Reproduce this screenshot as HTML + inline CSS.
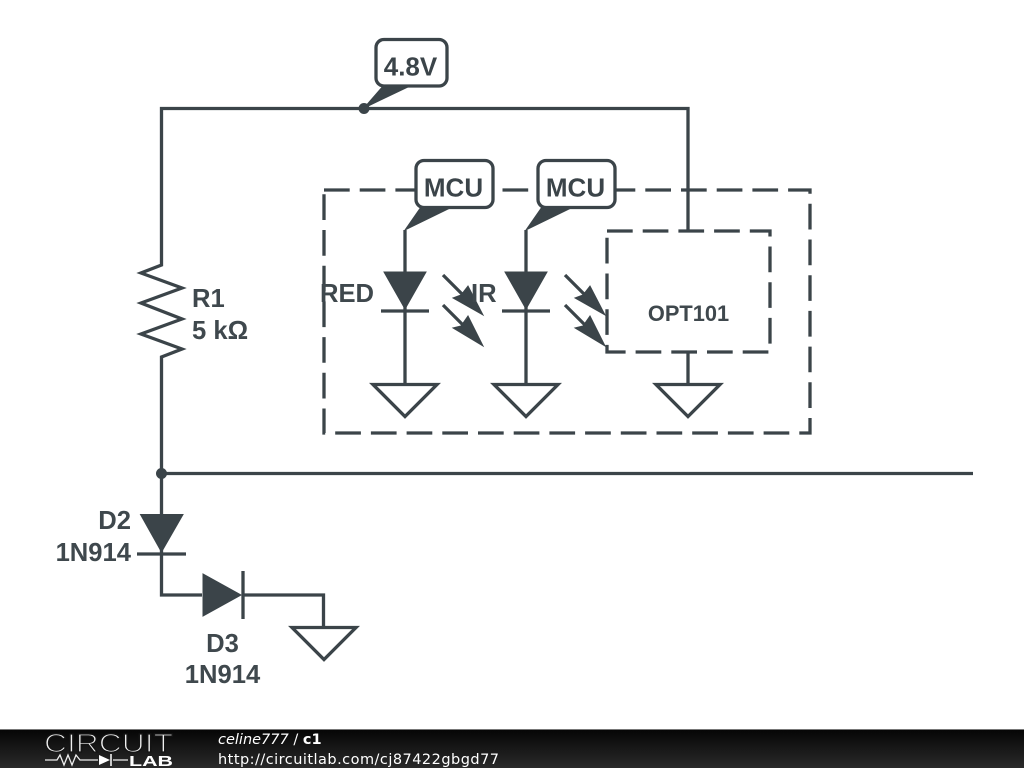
<!DOCTYPE html>
<html><head><meta charset="utf-8"><style>
html,body{margin:0;padding:0;background:#fff;width:1024px;height:768px;overflow:hidden}
svg{display:block}
.w{fill:none;stroke:#3b4449;stroke-width:3.3;stroke-linejoin:miter}
.f{fill:#3b4449;stroke:#3b4449;stroke-width:1}
.t{font-family:"Liberation Sans",sans-serif;font-weight:bold;font-size:25.6px;fill:#3f484d}
.m{font-size:26px;fill:#3b4449}
.b{fill:#fff;stroke:#3b4449;stroke-width:3.3}
</style></head><body>
<svg width="1024" height="768" viewBox="0 0 1024 768" xmlns="http://www.w3.org/2000/svg">
<defs><linearGradient id="g" x1="0" y1="0" x2="0" y2="1"><stop offset="0" stop-color="#050505"/><stop offset="1" stop-color="#2a2a2a"/></linearGradient></defs>
<rect width="1024" height="768" fill="#fff"/>
<!-- dashed boxes -->
<path class="w" stroke-dasharray="25.7 10" d="M324 190H810V433H324Z"/>
<path class="w" stroke-dasharray="25.7 10" d="M607 231H770V352H607Z"/>
<!-- wires -->
<path class="w" d="M161.500 473V357L182 349L141 334L182 319L141 303L182 288L141 273L161.500 265V108.500H688V231"/>
<path class="w" d="M973 473.500H161.500V595H202M243 595H323.500V627"/>
<path class="w" d="M405 230V384M526 230V384M688 352V384"/>
<circle cx="364" cy="108.500" r="5.500" fill="#3b4449"/>
<circle cx="161.500" cy="473.500" r="5.500" fill="#3b4449"/>
<!-- grounds -->
<path class="w" d="M373 384.500H437L405 416.500Z"/>
<path class="w" d="M494 384.500H558L526 416.500Z"/>
<path class="w" d="M656 384.500H720L688 416.500Z"/>
<path class="w" d="M292 627.500H356L324 659.500Z"/>
<!-- diodes -->
<path class="f" d="M384 272H426L405 309Z"/><path class="w" d="M381 311H429"/>
<path class="f" d="M505 272H547L526 309Z"/><path class="w" d="M502 311H550"/>
<path class="f" d="M140.500 514.500H183L161.500 552Z"/><path class="w" d="M137 554H186"/>
<path class="f" d="M203 574V616L241 595Z"/><path class="w" d="M243 571V619"/>
<!-- light arrows -->
<g>
<path class="w" d="M443 275L470 302"/><path class="f" d="M483 315L453 298L461 295L468 286Z"/>
<path class="w" d="M443 305L470 332"/><path class="f" d="M483 346L453 328L461 326L468 316Z"/>
<path class="w" d="M565 275L592 302"/><path class="f" d="M605 315L575 298L583 295L590 286Z"/>
<path class="w" d="M565 305L592 332"/><path class="f" d="M605 346L575 328L583 326L590 316Z"/>
</g>
<!-- callouts -->
<path class="f" d="M364 108L384 85H412Z"/>
<rect class="b" x="376" y="39.500" width="71" height="46.500" rx="8"/>
<path class="f" d="M405 230L421 207H452Z"/>
<rect class="b" x="416" y="160.500" width="77" height="47" rx="8"/>
<path class="f" d="M526 230L542 207H573Z"/>
<rect class="b" x="538" y="160.500" width="77" height="47" rx="8"/>
<!-- labels -->
<text class="t m" x="410.500" y="75.500" text-anchor="middle">4.8V</text>
<text class="t m" x="453.500" y="196.500" text-anchor="middle">MCU</text>
<text class="t m" x="575.500" y="196.500" text-anchor="middle">MCU</text>
<text class="t" x="192" y="307">R1</text>
<text class="t" x="192" y="339">5 kΩ</text>
<text class="t" x="131" y="529" text-anchor="end">D2</text>
<text class="t" x="131" y="561" text-anchor="end">1N914</text>
<text class="t" x="222.500" y="652" text-anchor="middle">D3</text>
<text class="t" x="222.500" y="683" text-anchor="middle">1N914</text>
<text class="t" x="320" y="302">RED</text>
<text class="t" x="471" y="302">IR</text>
<text class="t" x="688.500" y="321" text-anchor="middle" style="font-size:21.800px">OPT101</text>
<!-- footer -->
<rect x="0" y="729" width="1024" height="39" fill="url(#g)"/>
<rect x="0" y="729" width="1024" height="1" fill="#777"/>
<text x="44" y="752" font-family="Liberation Sans,sans-serif" font-size="26" fill="#f0f0f0" stroke="#141414" stroke-width="1.300" style="paint-order:fill stroke" textLength="129" lengthAdjust="spacingAndGlyphs">CIRCUIT</text>
<path d="M45 760H57L60 755L64 765L68 755L72 765L76 755L80 760H98M113 760H128" fill="none" stroke="#eee" stroke-width="1.300"/>
<path d="M99 755V765L110 760Z" fill="#fff"/><path d="M111 754V766" stroke="#fff" stroke-width="1.500"/>
<text x="129" y="766" font-family="Liberation Sans,sans-serif" font-weight="bold" font-size="15" fill="#fff" textLength="44" lengthAdjust="spacingAndGlyphs">LAB</text>
<text x="218" y="744" font-family="DejaVu Sans,sans-serif" font-size="14.500" fill="#fff"><tspan font-style="italic">celine777</tspan> / <tspan font-weight="bold">c1</tspan></text>
<text x="218" y="764" font-family="DejaVu Sans,sans-serif" font-size="14.500" fill="#fff" textLength="281">http://circuitlab.com/cj87422gbgd77</text>
</svg>
</body></html>
